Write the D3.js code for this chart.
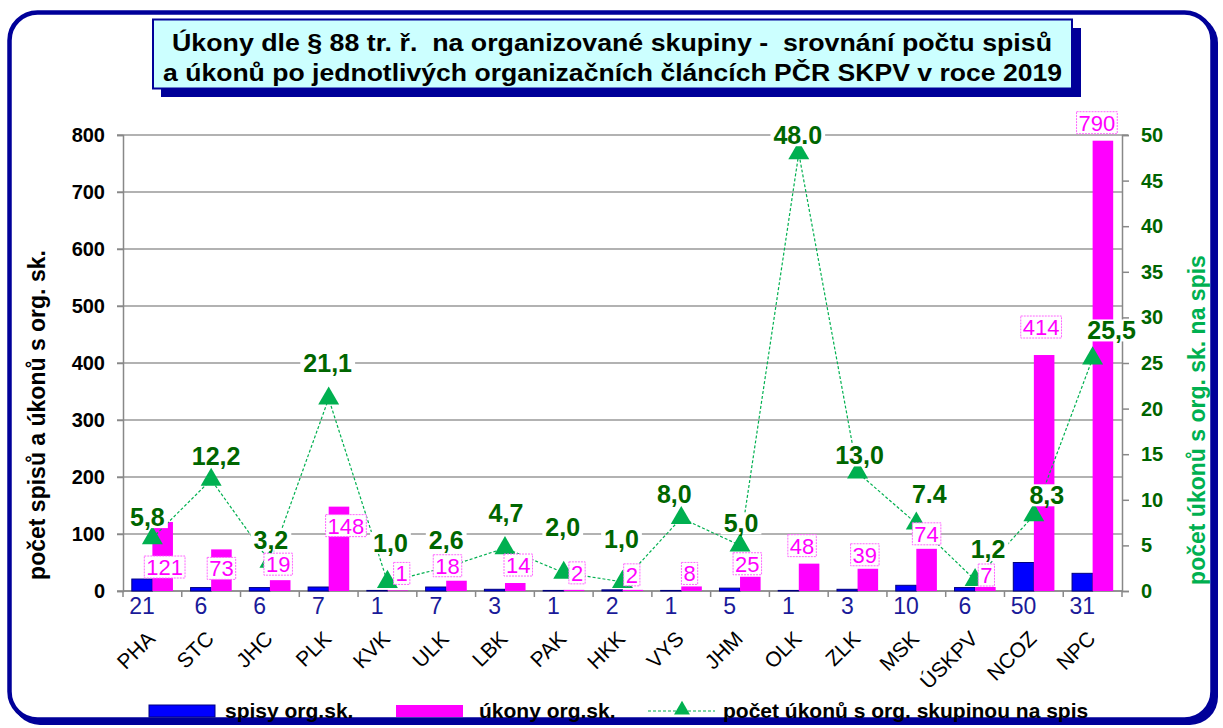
<!DOCTYPE html>
<html>
<head>
<meta charset="utf-8">
<script src="https://d3js.org/d3.v7.min.js"></script>
<style>
  body { margin: 0; background: #fff; }
  svg { font-family: "Liberation Sans", Arial, sans-serif; }
</style>
</head>
<body>
<div id="container"></div>
<script>
var width = 1223, height = 728;

// data
var kraje = ["PHA", "STC", "JHC", "PLK", "KVK", "ULK", "LBK", "PAK", "HKK", "VYS", "JHM", "OLK", "ZLK", "MSK", "ÚSKPV", "NCOZ", "NPC"];
var spisy = [21, 6, 6, 7, 1, 7, 3, 1, 2, 1, 5, 1, 3, 10, 6, 50, 31];
var ukony = [121, 73, 19, 148, 1, 18, 14, 2, 2, 8, 25, 48, 39, 74, 7, 414, 790];
var naSpis = [5.8, 12.2, 3.2, 21.1, 1.0, 2.6, 4.7, 2.0, 1.0, 8.0, 5.0, 48.0, 13.0, 7.4, 1.2, 8.3, 25.5];
var naSpisText = ["5,8", "12,2", "3,2", "21,1", "1,0", "2,6", "4,7", "2,0", "1,0", "8,0", "5,0", "48.0", "13,0", "7.4", "1,2", "8,3", "25,5"];
var leftTicks = [0, 100, 200, 300, 400, 500, 600, 700, 800];
var rightTicks = [0, 5, 10, 15, 20, 25, 30, 35, 40, 45, 50];

// hand-placed data label nudges (px), as in the original sheet
var ukonyLabelDx = [2, 0, -2, 7, 4, -9, 3, 3, -1, -2, -3, -7, -3, 0, 1, -3, -6];
var ukonyLabelDy = [45, 19, -16, 19, -17, -15, -18, -17, -15, -13, -13, -18, -14, -15, -12, -28, -18];
var naSpisLabelDx = [-5, 5, 1, -1, 3, 0, 1, -1, -1, -7, 1, -1, 2, 13, 13, 13, 19];
var naSpisLabelDy = [-21, -24, -22, -36, -39, -27, -35, -46, -43, -24, -22, -18, -17, -30, -31, -20, -28];

var plotLeft = 123, plotRight = 1122, plotTop = 135, plotBottom = 591;

var svg = d3.select("#container").append("svg")
    .attr("width", width)
    .attr("height", height);

// outer frame
svg.append("rect").attr("x", 12).attr("y", 15).attr("width", 1206).attr("height", 710)
    .attr("rx", 28).attr("fill", "#000099");
svg.append("rect").attr("x", 9.5).attr("y", 12.5).attr("width", 1203).attr("height", 707)
    .attr("rx", 28).attr("fill", "#fff").attr("stroke", "#000099").attr("stroke-width", 4.5);

// title box
svg.append("rect").attr("x", 161).attr("y", 28).attr("width", 920).attr("height", 69).attr("fill", "#000099");
svg.append("rect").attr("x", 153).attr("y", 19.5).attr("width", 919).attr("height", 69)
    .attr("fill", "#ccffff").attr("stroke", "#000099").attr("stroke-width", 2);
var title = svg.append("g").style("font-weight", "bold").style("font-size", "24px").attr("fill", "#000");
title.append("text").attr("x", 172).attr("y", 51).style("white-space", "pre")
    .attr("textLength", 880).attr("lengthAdjust", "spacingAndGlyphs")
    .text("Úkony dle § 88 tr. ř.  na organizované skupiny -  srovnání počtu spisů");
title.append("text").attr("x", 163).attr("y", 81).style("white-space", "pre")
    .attr("textLength", 899).attr("lengthAdjust", "spacingAndGlyphs")
    .text("a úkonů po jednotlivých organizačních článcích PČR SKPV v roce 2019");

var x = d3.scaleBand().domain(kraje).range([plotLeft, plotRight]).paddingInner(0.3).paddingOuter(0.15);
var xs = d3.scaleBand().domain(["spisy", "ukony"]).range([0, x.bandwidth()]);
var yL = d3.scaleLinear().domain([0, 800]).range([plotBottom, plotTop]);
var yR = d3.scaleLinear().domain([0, 50]).range([plotBottom, plotTop]);

// gridlines
svg.append("g").selectAll("line").data(leftTicks).enter().append("line")
    .attr("x1", plotLeft - 6).attr("x2", function(d) { return d === 800 ? plotRight + 6 : plotRight; })
    .attr("y1", function(d) { return yL(d); }).attr("y2", function(d) { return yL(d); })
    .attr("stroke", "#999").attr("stroke-width", 1.5);

// left axis
var gL = svg.append("g").attr("transform", "translate(" + plotLeft + ",0)")
    .call(d3.axisLeft(yL).tickValues(leftTicks).tickSize(6).tickPadding(12));
gL.select(".domain").attr("stroke", "#888").attr("stroke-width", 1.5);
gL.selectAll(".tick line").attr("stroke", "#888").attr("stroke-width", 1.5);
gL.selectAll("text").style("font-size", "20px").style("font-weight", "bold").attr("fill", "#000")
    .style("font-family", "'Liberation Sans', Arial, sans-serif");

// right axis
var gR = svg.append("g").attr("transform", "translate(" + plotRight + ",0)")
    .call(d3.axisRight(yR).tickValues(rightTicks).tickSize(7).tickPadding(12));
gR.select(".domain").attr("stroke", "#888").attr("stroke-width", 1.5);
gR.selectAll(".tick line").attr("stroke", "#888").attr("stroke-width", 1.5);
gR.selectAll("text").style("font-size", "20px").style("font-weight", "bold").attr("fill", "#006400")
    .style("font-family", "'Liberation Sans', Arial, sans-serif");

// x axis with ticks between categories
svg.append("line").attr("x1", plotLeft).attr("x2", plotRight).attr("y1", plotBottom).attr("y2", plotBottom)
    .attr("stroke", "#888").attr("stroke-width", 1.5);
svg.append("g").selectAll("line").data(d3.range(kraje.length + 1)).enter().append("line")
    .attr("x1", function(i) { return plotLeft + i * x.step(); })
    .attr("x2", function(i) { return plotLeft + i * x.step(); })
    .attr("y1", plotBottom).attr("y2", plotBottom + 6)
    .attr("stroke", "#888").attr("stroke-width", 1.5);

// bars
svg.append("g").selectAll("rect").data(kraje).enter().append("rect")
    .attr("x", function(d) { return x(d) + xs("spisy"); })
    .attr("width", xs.bandwidth())
    .attr("y", function(d, i) { return yL(spisy[i]); })
    .attr("height", function(d, i) { return plotBottom - yL(spisy[i]); })
    .attr("fill", "#0000ff").attr("stroke", "#000080").attr("stroke-width", 1);

svg.append("g").selectAll("rect").data(kraje).enter().append("rect")
    .attr("x", function(d) { return x(d) + xs("ukony"); })
    .attr("width", xs.bandwidth())
    .attr("y", function(d, i) { return yL(ukony[i]); })
    .attr("height", function(d, i) { return plotBottom - yL(ukony[i]); })
    .attr("fill", "#ff00ff");

// spisy labels under the axis
svg.append("g").selectAll("text").data(kraje).enter().append("text")
    .attr("x", function(d) { return x(d) + xs("spisy") + xs.bandwidth() / 2; })
    .attr("y", 614)
    .attr("text-anchor", "middle")
    .style("font-size", "23px").attr("fill", "#1a1a99")
    .text(function(d, i) { return spisy[i]; });

// category labels
svg.append("g").selectAll("text").data(kraje).enter().append("text")
    .attr("transform", function(d) { return "translate(" + (x(d) + x.bandwidth() / 2 + 4) + ",640) rotate(-45)"; })
    .attr("text-anchor", "end")
    .style("font-size", "21px").attr("fill", "#000")
    .text(function(d) { return d; });

// line of ratio
var line = d3.line()
    .x(function(d, i) { return x(kraje[i]) + x.bandwidth() / 2; })
    .y(function(d) { return yR(d); });
svg.append("path").datum(naSpis).attr("d", line)
    .attr("fill", "none").attr("stroke", "#00b050").attr("stroke-width", 1.2)
    .attr("stroke-dasharray", "3,2");

// markers
var tri = d3.symbol().type(d3.symbolTriangle).size(190);
svg.append("g").selectAll("path").data(naSpis).enter().append("path")
    .attr("d", tri)
    .attr("transform", function(d, i) { return "translate(" + (x(kraje[i]) + x.bandwidth() / 2) + "," + yR(d) + ")"; })
    .attr("fill", "#00b050");

// ukony labels (white box, dashed border)
var pinkG = svg.append("g");
kraje.forEach(function(k, i) {
    var cx = x(k) + xs("ukony") + xs.bandwidth() / 2 + ukonyLabelDx[i];
    var cy = yL(ukony[i]) + ukonyLabelDy[i];
    var g = pinkG.append("g");
    var t = g.append("text").attr("x", cx).attr("y", cy + 8).attr("text-anchor", "middle")
        .style("font-size", "22px").attr("fill", "#ff00ff").text(ukony[i]);
    var b = t.node().getBBox();
    g.insert("rect", "text").attr("x", b.x - 2).attr("y", cy - 11).attr("width", b.width + 4).attr("height", 22)
        .attr("fill", "#fff").attr("stroke", "#ff66ff").attr("stroke-width", 1).attr("stroke-dasharray", "2,1");
});

// ratio labels
var greenG = svg.append("g");
naSpis.forEach(function(v, i) {
    var cx = x(kraje[i]) + x.bandwidth() / 2 + naSpisLabelDx[i];
    var cy = yR(v) + naSpisLabelDy[i];
    var g = greenG.append("g");
    var t = g.append("text").attr("x", cx).attr("y", cy + 9).attr("text-anchor", "middle")
        .style("font-size", "25px").style("font-weight", "bold").attr("fill", "#006600").text(naSpisText[i]);
    var b = t.node().getBBox();
    g.insert("rect", "text").attr("x", b.x - 3).attr("y", b.y + 3).attr("width", b.width + 6).attr("height", b.height - 6)
        .attr("fill", "#fff");
});

// axis titles
svg.append("text").attr("transform", "translate(45,415) rotate(-90)").attr("text-anchor", "middle")
    .style("font-size", "23px").style("font-weight", "bold").attr("fill", "#000")
    .text("počet spisů a úkonů s org. sk.");
svg.append("text").attr("transform", "translate(1205,420) rotate(-90)").attr("text-anchor", "middle")
    .style("font-size", "23px").style("font-weight", "bold").attr("fill", "#00b050")
    .text("počet úkonů s org. sk. na spis");

// legend
var lg = svg.append("g").style("font-size", "21px").style("font-weight", "bold");
lg.append("rect").attr("x", 149).attr("y", 705).attr("width", 66).attr("height", 12)
    .attr("fill", "#0000ff").attr("stroke", "#000080");
lg.append("text").attr("x", 225).attr("y", 718).text("spisy org.sk.");
lg.append("rect").attr("x", 396).attr("y", 705).attr("width", 67).attr("height", 12).attr("fill", "#ff00ff");
lg.append("text").attr("x", 479).attr("y", 718).text("úkony org.sk.");
lg.append("line").attr("x1", 648).attr("x2", 715).attr("y1", 711).attr("y2", 711)
    .attr("stroke", "#00b050").attr("stroke-width", 1.2).attr("stroke-dasharray", "3,2");
lg.append("path").attr("d", d3.symbol().type(d3.symbolTriangle).size(110))
    .attr("transform", "translate(682,710)").attr("fill", "#00b050");
lg.append("text").attr("x", 723).attr("y", 718).text("počet úkonů s org. skupinou na spis");
</script>
</body>
</html>
